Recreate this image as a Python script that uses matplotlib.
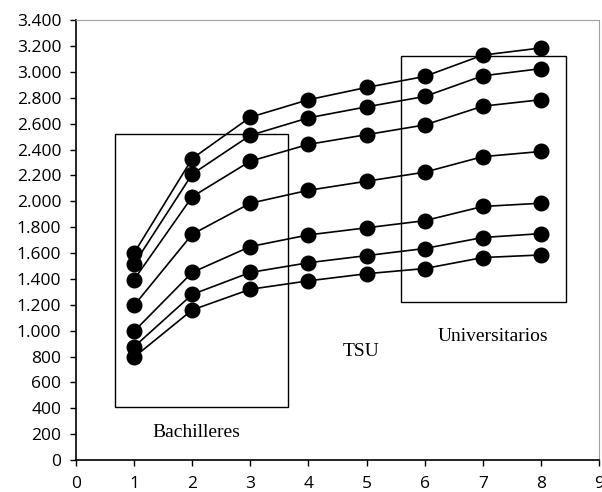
import matplotlib.pyplot as plt
from matplotlib.patches import Rectangle
from matplotlib.ticker import FuncFormatter

# eje x: niveles 1..8
niveles = [1, 2, 3, 4, 5, 6, 7, 8]

serie1 = [1600, 2330, 2650, 2785, 2880, 2965, 3130, 3185]
serie2 = [1515, 2210, 2510, 2645, 2730, 2810, 2970, 3025]
serie3 = [1395, 2035, 2310, 2440, 2515, 2590, 2735, 2785]
serie4 = [1195, 1745, 1985, 2085, 2155, 2225, 2345, 2385]
serie5 = [995, 1450, 1650, 1740, 1795, 1850, 1960, 1985]
serie6 = [875, 1280, 1450, 1525, 1580, 1635, 1720, 1750]
serie7 = [795, 1160, 1320, 1385, 1440, 1480, 1565, 1585]
series = [serie1, serie2, serie3, serie4, serie5, serie6, serie7]

yticks = [0, 200, 400, 600, 800, 1000, 1200, 1400, 1600, 1800, 2000,
          2200, 2400, 2600, 2800, 3000, 3200, 3400]

fig = plt.figure(figsize=(6.02, 4.92), dpi=100)
ax = fig.add_axes([0.1262, 0.065, 0.8688, 0.894])

for s in series:
    ax.plot(niveles, s, '-o', color='black', lw=1.2, ms=10.5, zorder=3)

# recuadros
ax.add_patch(Rectangle((0.68, 410), 3.64 - 0.68, 2520 - 410, fill=False,
                       edgecolor='black', lw=1.0, zorder=2))
ax.add_patch(Rectangle((5.59, 1222), 8.43 - 5.59, 3122 - 1222, fill=False,
                       edgecolor='black', lw=1.0, zorder=2))

serif = 'Liberation Serif'
ax.text(2.07, 211, 'Bachilleres', family=serif, fontsize=14, ha='center', va='center')
ax.text(4.9, 837, 'TSU', family=serif, fontsize=14, ha='center', va='center')
ax.text(7.17, 958, 'Universitarios', family=serif, fontsize=14, ha='center', va='center')

ax.set_xlim(0, 9)
ax.set_ylim(0, 3400)
ax.set_xticks(range(0, 10))
ax.set_yticks(yticks)
ax.yaxis.set_major_formatter(FuncFormatter(lambda v, p: f'{int(v):,}'.replace(',', '.')))

ax.spines['left'].set_linewidth(1.2)
ax.spines['bottom'].set_linewidth(1.2)
ax.spines['top'].set_color('#a0a0a0')
ax.spines['right'].set_color('#a0a0a0')
ax.tick_params(direction='out', length=4.5, width=1.0, labelsize=12.5)
ax.tick_params(axis='y', pad=6)
ax.tick_params(axis='x', pad=7)
for lbl in ax.get_xticklabels() + ax.get_yticklabels():
    lbl.set_family('Open Sans')

fig.savefig('out.png', dpi=100)
